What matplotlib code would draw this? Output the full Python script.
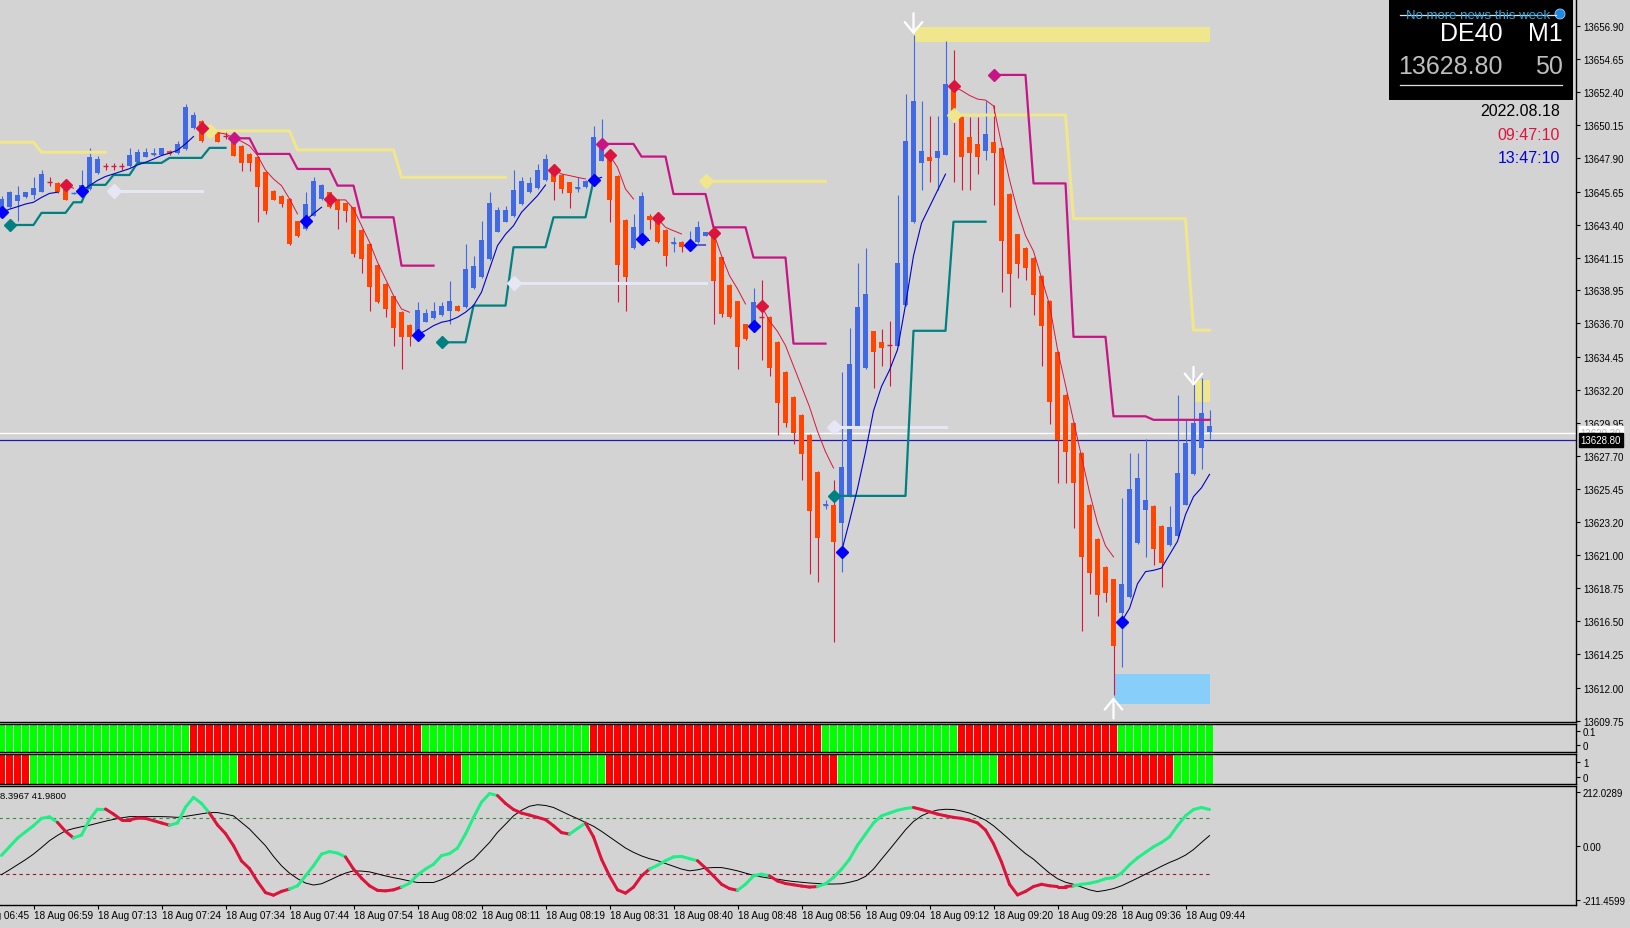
import numpy as np
import matplotlib
matplotlib.use('Agg')
import matplotlib.pyplot as plt
import matplotlib.transforms as mtransforms
from matplotlib.collections import LineCollection
from matplotlib.patches import Rectangle, Circle

plt.rcParams['font.family'] = ['Liberation Sans', 'DejaVu Sans']

# ---- M1 bars (DE40, 18 Aug 2022) ----
opens = [
    13644.47, 13644.58, 13645.03, 13645.26, 13645.42, 13645.65, 13646.28, 13646.23, 13646.05, 13645.52,
    13645.60, 13645.83, 13646.91, 13647.36, 13647.36, 13647.36, 13647.36, 13647.68, 13648.02, 13648.18,
    13648.16, 13648.40, 13648.27, 13648.54, 13649.94, 13650.42, 13649.78, 13649.67, 13649.44, 13649.33,
    13648.77, 13648.20, 13647.97, 13646.96, 13645.69, 13645.37, 13645.15, 13643.63, 13643.11, 13644.02,
    13645.15, 13645.60, 13645.10, 13644.85, 13644.58, 13643.07, 13642.09, 13640.67, 13639.38, 13638.54,
    13637.46, 13636.60, 13635.99, 13636.83, 13637.05, 13637.28, 13637.57, 13637.91, 13637.80, 13639.09,
    13639.83, 13641.08, 13642.93, 13643.61, 13643.97, 13644.80, 13645.60, 13645.89, 13646.43, 13647.07,
    13646.77, 13646.27, 13645.90, 13645.94, 13646.39, 13647.74, 13648.08, 13646.73, 13643.72, 13641.80,
    13642.39, 13643.97, 13643.61, 13643.04, 13642.18, 13642.21, 13641.93, 13642.21, 13642.66, 13642.77,
    13641.19, 13639.31, 13638.20, 13636.64, 13636.45, 13637.13, 13637.13, 13635.47, 13633.40, 13631.73,
    13630.49, 13629.16, 13626.61, 13624.36, 13624.40, 13623.15, 13624.95, 13629.66, 13633.67, 13636.17,
    13635.47, 13635.25, 13635.20, 13637.96, 13643.56, 13647.60, 13648.00, 13647.94, 13648.16, 13652.60,
    13650.70, 13649.37, 13648.90, 13648.43, 13649.04, 13648.63, 13645.48, 13642.75, 13641.81, 13641.15,
    13639.94, 13638.21, 13634.79, 13631.85, 13629.94, 13627.91, 13624.40, 13622.07, 13620.16, 13619.34,
    13617.07, 13618.13, 13621.77, 13624.03, 13624.34, 13622.97, 13621.67, 13622.28, 13624.40, 13626.46,
    13628.22, 13629.34]
highs = [
    13645.37, 13645.71, 13646.05, 13645.65, 13646.62, 13647.11, 13646.62, 13646.28, 13646.16, 13645.62,
    13647.11, 13648.58, 13648.09, 13647.59, 13647.59, 13647.59, 13648.58, 13648.54, 13648.58, 13648.58,
    13648.63, 13648.45, 13649.10, 13651.59, 13651.07, 13650.47, 13649.85, 13649.72, 13649.67, 13649.44,
    13648.81, 13648.25, 13648.09, 13647.00, 13645.75, 13645.42, 13645.20, 13643.68, 13645.60, 13646.62,
    13646.15, 13645.65, 13645.15, 13644.90, 13644.63, 13643.12, 13642.14, 13640.72, 13639.43, 13638.59,
    13637.51, 13636.65, 13638.14, 13637.68, 13638.14, 13638.14, 13639.61, 13637.96, 13642.09, 13641.30,
    13643.68, 13645.60, 13644.58, 13644.65, 13647.11, 13646.61, 13646.61, 13647.52, 13648.20, 13647.20,
    13646.82, 13646.32, 13646.61, 13646.44, 13650.12, 13650.57, 13648.13, 13646.78, 13643.77, 13644.13,
    13645.60, 13644.13, 13643.90, 13643.09, 13642.54, 13642.26, 13643.00, 13643.67, 13642.93, 13642.82,
    13641.24, 13639.36, 13638.25, 13636.69, 13639.07, 13639.63, 13637.18, 13635.52, 13633.45, 13631.78,
    13630.54, 13629.21, 13626.66, 13624.70, 13626.11, 13633.40, 13636.36, 13640.79, 13641.79, 13636.22,
    13636.30, 13636.86, 13645.39, 13652.28, 13656.24, 13651.81, 13650.76, 13650.76, 13655.83, 13655.27,
    13650.75, 13650.70, 13650.70, 13651.81, 13651.53, 13648.68, 13645.53, 13642.80, 13641.86, 13641.20,
    13639.99, 13638.26, 13634.84, 13631.90, 13629.99, 13627.96, 13624.45, 13622.12, 13620.21, 13619.39,
    13624.88, 13627.91, 13627.91, 13628.88, 13624.39, 13623.02, 13624.34, 13631.85, 13630.24, 13632.97,
    13632.97, 13630.85]
lows = [
    13644.36, 13644.51, 13643.68, 13645.22, 13645.15, 13645.60, 13646.05, 13645.56, 13645.06, 13645.50,
    13645.42, 13645.78, 13646.86, 13647.09, 13647.09, 13647.09, 13647.32, 13647.64, 13647.97, 13648.09,
    13648.11, 13648.13, 13648.22, 13648.49, 13649.90, 13649.02, 13649.60, 13648.99, 13649.22, 13648.04,
    13647.07, 13647.07, 13643.61, 13644.13, 13645.05, 13644.58, 13642.04, 13642.56, 13643.06, 13643.97,
    13645.10, 13644.53, 13643.11, 13643.61, 13641.19, 13640.13, 13637.57, 13638.09, 13637.12, 13635.20,
    13633.61, 13635.20, 13635.88, 13636.78, 13637.00, 13637.23, 13636.67, 13637.52, 13637.75, 13639.04,
    13639.78, 13641.03, 13642.88, 13643.56, 13643.92, 13644.75, 13645.55, 13645.84, 13646.38, 13645.10,
    13645.55, 13644.51, 13645.60, 13645.89, 13646.34, 13647.69, 13643.61, 13638.13, 13637.57, 13641.75,
    13642.34, 13643.11, 13642.16, 13640.58, 13641.53, 13641.55, 13641.62, 13642.16, 13642.61, 13636.66,
    13637.12, 13637.07, 13633.61, 13635.56, 13636.40, 13634.23, 13633.12, 13629.10, 13629.66, 13628.55,
    13626.06, 13619.69, 13619.13, 13624.10, 13615.12, 13619.83, 13624.90, 13629.61, 13633.62, 13632.29,
    13633.81, 13632.43, 13635.15, 13637.91, 13643.51, 13645.77, 13646.27, 13645.77, 13648.11, 13646.27,
    13645.77, 13645.77, 13646.83, 13647.80, 13644.75, 13638.81, 13637.82, 13639.78, 13639.63, 13637.30,
    13633.79, 13629.85, 13625.85, 13625.85, 13622.82, 13615.86, 13618.34, 13616.83, 13617.83, 13611.47,
    13613.38, 13618.08, 13621.72, 13620.86, 13620.34, 13618.83, 13621.62, 13622.23, 13624.35, 13626.41,
    13626.82, 13628.88]
closes = [
    13645.15, 13645.60, 13645.42, 13645.60, 13645.89, 13646.84, 13646.28, 13645.60, 13645.10, 13645.58,
    13646.10, 13647.97, 13647.86, 13647.36, 13647.36, 13647.36, 13648.13, 13648.36, 13648.36, 13648.27,
    13648.58, 13648.18, 13648.88, 13651.37, 13650.85, 13649.06, 13649.67, 13649.04, 13649.44, 13648.09,
    13647.59, 13647.59, 13645.94, 13644.36, 13645.10, 13644.81, 13642.09, 13642.61, 13644.81, 13646.39,
    13646.10, 13644.58, 13644.42, 13644.36, 13641.42, 13641.08, 13639.15, 13638.14, 13637.68, 13636.37,
    13635.76, 13635.76, 13637.62, 13637.41, 13637.57, 13637.87, 13638.23, 13637.57, 13640.40, 13640.62,
    13642.37, 13644.88, 13644.40, 13644.40, 13645.75, 13646.39, 13646.23, 13647.11, 13647.86, 13646.32,
    13645.82, 13645.55, 13645.95, 13646.39, 13649.33, 13648.81, 13645.10, 13640.67, 13639.83, 13643.27,
    13645.33, 13643.72, 13642.21, 13641.30, 13642.23, 13641.87, 13642.21, 13643.22, 13642.88, 13639.60,
    13637.34, 13637.12, 13635.13, 13635.62, 13638.17, 13637.13, 13633.67, 13631.32, 13629.93, 13629.24,
    13627.86, 13623.98, 13622.13, 13624.42, 13621.90, 13626.94, 13633.95, 13637.83, 13638.71, 13634.78,
    13635.06, 13635.25, 13640.79, 13649.10, 13651.81, 13648.43, 13647.70, 13648.43, 13652.92, 13650.80,
    13647.99, 13648.27, 13647.99, 13649.54, 13648.27, 13642.27, 13640.03, 13640.75, 13640.45, 13638.63,
    13636.51, 13631.37, 13628.82, 13627.97, 13625.85, 13620.86, 13619.80, 13618.28, 13618.43, 13614.80,
    13619.04, 13625.49, 13626.22, 13624.70, 13621.37, 13620.46, 13622.88, 13626.52, 13628.58, 13629.94,
    13630.64, 13629.73]

# time axis (bar index of each label)
time_ticks = [-4, 4, 12, 20, 28, 36, 44, 52, 60, 68, 76, 84, 92, 100, 108, 116, 124, 132, 140, 148]
time_labels = ['18 Aug 06:45', '18 Aug 06:59', '18 Aug 07:13', '18 Aug 07:24', '18 Aug 07:34',
               '18 Aug 07:44', '18 Aug 07:54', '18 Aug 08:02', '18 Aug 08:11', '18 Aug 08:19',
               '18 Aug 08:31', '18 Aug 08:40', '18 Aug 08:48', '18 Aug 08:56', '18 Aug 09:04',
               '18 Aug 09:12', '18 Aug 09:20', '18 Aug 09:28', '18 Aug 09:36', '18 Aug 09:44']
price_ticks = [13656.90, 13654.65, 13652.40, 13650.15, 13647.90, 13645.65, 13643.40, 13641.15,
               13638.95, 13636.70, 13634.45, 13632.20, 13629.95, 13627.70, 13625.45, 13623.20,
               13621.00, 13618.75, 13616.50, 13614.25, 13612.00, 13609.75]
bid_price = 13628.80
ask_price = 13629.30

# step levels (first bar, last bar, price)
yellow_steps = [(0, 4, 13648.99), (5, 13, 13648.31),
                (26, 36, 13649.76), (37, 49, 13648.47), (50, 63, 13646.61),
                (88, 103, 13646.34),
                (119, 133, 13650.84), (134, 148, 13643.81), (149, 151, 13636.24)]
magenta_steps = [(29, 31, 13649.26), (32, 36, 13648.20), (37, 41, 13647.18), (42, 44, 13646.05),
                 (45, 49, 13643.90), (50, 54, 13640.62),
                 (75, 79, 13648.88), (80, 83, 13648.02), (84, 88, 13645.48), (89, 93, 13643.22),
                 (94, 98, 13641.17), (99, 103, 13635.33),
                 (124, 128, 13653.56), (129, 133, 13646.20), (134, 138, 13635.79),
                 (139, 143, 13630.40), (144, 151, 13630.16)]
teal_steps = [(1, 4, 13643.38), (5, 8, 13644.20), (9, 10, 13644.92), (11, 13, 13646.10),
              (14, 16, 13646.77), (17, 20, 13647.59), (21, 25, 13647.93), (26, 28, 13648.61),
              (55, 58, 13635.42), (59, 63, 13637.91), (64, 68, 13641.87), (69, 73, 13643.90),
              (74, 74, 13646.39),
              (104, 113, 13625.00), (114, 118, 13636.20), (119, 123, 13643.60)]
pale_steps = [(14, 25, 13645.71), (64, 88, 13639.42), (104, 118, 13629.66)]

# thin trend lines (first bar, values)
blue_line = [
    (0, [13644.24, 13644.45, 13644.62, 13644.80, 13644.92, 13645.25, 13645.52, 13645.60]),
    (10, [13645.71, 13646.05, 13646.40, 13646.67, 13646.84, 13647.02, 13647.20, 13647.45,
          13647.63, 13647.85, 13648.09, 13648.25, 13648.45, 13648.88, 13649.38]),
    (38, [13643.68, 13644.15, 13644.58]),
    (52, [13635.94, 13636.21, 13636.55, 13636.78, 13636.89, 13637.12, 13637.46, 13637.91,
          13638.82, 13640.40, 13641.98, 13642.75, 13643.33, 13644.24, 13644.80, 13645.37, 13646.09]),
    (74, [13646.43, 13646.61]),
    (80, [13642.43, 13642.32]),
    (86, [13642.02, 13642.02, 13642.02]),
    (105, [13621.21, 13623.29, 13625.50, 13627.99, 13630.77, 13632.43, 13633.53, 13634.92,
           13637.96, 13641.29, 13643.50, 13644.61, 13645.72, 13646.83]),
    (140, [13616.47, 13617.37, 13619.04, 13619.86, 13619.95, 13620.10, 13621.01, 13621.92,
           13623.73, 13624.95, 13625.55, 13626.46])]
red_line = [
    (8, [13646.10, 13645.87]),
    (25, [13649.94, 13649.80, 13649.65, 13649.55, 13649.30, 13649.05, 13648.75, 13648.10,
          13647.10, 13646.50, 13646.05, 13645.15, 13644.13]),
    (41, [13645.15, 13645.08, 13645.08, 13644.47, 13643.34, 13642.21, 13640.85, 13639.72,
          13638.59, 13637.68, 13637.46]),
    (69, [13647.11, 13646.84, 13646.73, 13646.61, 13646.50]),
    (76, [13648.13, 13647.29, 13645.82, 13645.14]),
    (82, [13643.83, 13643.22, 13642.99, 13642.77]),
    (89, [13642.84, 13641.30, 13639.94, 13639.04, 13638.02]),
    (95, [13637.88, 13636.86, 13636.16, 13635.20, 13633.81, 13632.43, 13631.04, 13629.38,
          13627.99, 13626.89]),
    (119, [13652.78, 13652.50, 13652.17, 13651.92, 13651.85, 13651.46, 13648.87, 13646.45,
           13644.33, 13642.66, 13641.60, 13639.79, 13637.97, 13634.94, 13632.52, 13630.09,
           13627.67, 13625.25, 13623.13, 13621.61, 13620.86])]

# signal diamonds
buy_idx = [0, 10, 38, 52, 74, 80, 86, 94, 105, 140]
buy_px = [13644.24, 13645.71, 13643.68, 13635.94, 13646.43, 13642.43, 13642.02, 13636.55, 13621.21, 13616.47]
sell_idx = [8, 25, 41, 69, 76, 82, 89, 95, 119]
sell_px = [13646.10, 13649.94, 13645.15, 13647.11, 13648.13, 13643.83, 13642.84, 13637.88, 13652.78]
magenta_idx = [29, 75, 124]
magenta_px = [13649.26, 13648.88, 13653.56]
teal_idx = [1, 55, 104]
teal_px = [13643.38, 13635.42, 13625.00]
yellow_idx = [26, 88, 119]
yellow_px = [13649.76, 13646.34, 13650.84]
pale_idx = [14, 64, 104]
pale_px = [13645.71, 13639.42, 13629.66]

# zones (first bar, last bar, low, high, colour) and arrows (bar, tail, tip)
zones = [(114, 151, 13655.79, 13656.81, '#F0E68C'),
         (149, 151, 13631.37, 13632.88, '#F0E68C'),
         (139, 151, 13610.85, 13612.90, '#87CEFA')]
arrows = [(114, 13657.75, 13656.30), (149, 13633.75, 13632.45), (139, 13609.90, 13611.35)]

# sub-window histograms (colour, bar count)
p2_runs = [('G', 24), ('R', 29), ('G', 21), ('R', 29), ('G', 17), ('R', 20), ('G', 12)]
p3_runs = [('R', 4), ('G', 26), ('R', 28), ('G', 18), ('R', 29), ('G', 20), ('R', 22), ('G', 5)]

# oscillator
osc_main = [
    -37, -3, 31, 56, 80, 109, 115, 93, 58, 32,
    43, 104, 146, 146, 126, 103, 103, 110, 109, 100,
    91, 82, 91, 153, 192, 168, 130, 83, 49, 1,
    -59, -89, -140, -184, -194, -179, -170, -157, -118, -78,
    -32, -22, -28, -43, -91, -127, -157, -175, -177, -173,
    -162, -147, -114, -91, -72, -38, -30, -8, 47, 113,
    173, 207, 199, 168, 144, 130, 122, 113, 104, 80,
    53, 47, 69, 91, 36, -52, -118, -173, -186, -162,
    -118, -91, -76, -58, -43, -41, -50, -58, -87, -118,
    -151, -168, -175, -151, -118, -111, -118, -138, -148, -153,
    -158, -162, -160, -149, -124, -92, -52, 3, 47, 91,
    119, 130, 141, 148, 152, 144, 135, 126, 119, 113,
    109, 102, 91, 63, 9, -63, -151, -193, -179, -160,
    -151, -157, -160, -160, -157, -151, -147, -140, -129, -125,
    -107, -74, -47, -25, -3, 14, 36, 80, 119, 144,
    152, 144]
osc_signal = [
    -113, -94, -74, -54, -32, -6, 21, 42, 60, 69,
    76, 82, 90, 98, 105, 111, 116, 116, 116, 116,
    116, 115, 113, 117, 122, 127, 132, 132, 126, 119,
    93, 67, 34, 1, -41, -78, -107, -129, -146, -154,
    -149, -135, -120, -107, -98, -99, -102, -110, -118, -125,
    -131, -138, -144, -144, -144, -133, -118, -96, -72, -52,
    -19, 14, 54, 86, 119, 141, 157, 163, 160, 152,
    137, 122, 108, 93, 78, 58, 36, 14, -8, -25,
    -39, -50, -58, -69, -80, -91, -98, -94, -87, -85,
    -85, -91, -98, -107, -116, -122, -127, -131, -136, -140,
    -143, -146, -148, -150, -150, -149, -143, -135, -120, -91,
    -52, -14, 25, 64, 97, 119, 133, 142, 145, 144,
    138, 130, 117, 102, 80, 53, 25, -3, -30, -52,
    -80, -107, -129, -143, -151, -162, -173, -180, -175, -168,
    -157, -142, -127, -111, -96, -80, -65, -52, -36, -14,
    14, 41]
osc_runs = [('G', 8), ('R', 2), ('G', 4), ('R', 8), ('G', 5), ('R', 10), ('G', 7), ('R', 7),
            ('G', 12), ('R', 9), ('G', 2), ('R', 8), ('G', 6), ('R', 5), ('G', 4), ('R', 6),
            ('G', 12), ('R', 20), ('G', 17)]
osc_levels = [110, -110]

BG = '#D3D3D3'
BULL = '#4169E1'
BEAR = '#FF4500'
WICK_DN = '#DC143C'

n = len(opens)
x = np.arange(n)
o, h, l, c = (np.array(v) for v in (opens, highs, lows, closes))


def steps_to_series(steps):
    s = np.full(n, np.nan)
    for a, b, v in steps:
        s[a:b + 1] = v
    return s


def segs_to_series(segs):
    s = np.full(n, np.nan)
    for a, vals in segs:
        s[a:a + len(vals)] = vals
    return s


def runs_to_list(runs):
    out = []
    for col, k in runs:
        out += [col] * k
    return out


W, H = 1631.0, 929.0
fig = plt.figure(figsize=(16.31, 9.29), dpi=100, facecolor=BG)


def add_panel(top, bottom):
    a = fig.add_axes([0, 1 - bottom / H, 1576 / W, (bottom - top) / H], facecolor=BG)
    a.set_xlim(-0.1875, 196.81)
    a.spines['left'].set_visible(False)
    for s in ('top', 'right', 'bottom'):
        a.spines[s].set_color('black')
        a.spines[s].set_linewidth(1)
    a.yaxis.tick_right()
    a.tick_params(axis='y', direction='out', length=3, width=0.8, labelsize=7, pad=2)
    a.set_xticks([])
    return a


ax = add_panel(0, 723)
ax.spines['top'].set_visible(False)
ax.set_ylim(13609.66, 13658.71)
ax.set_yticks(price_ticks)
ax.set_yticklabels(['%.2f' % v for v in price_ticks])

# zones
for a, b, lo, hi, col in zones:
    ax.add_patch(Rectangle((a, lo), b - a, hi - lo, facecolor=col, edgecolor='none', zorder=1))

# ask / bid
ax.axhline(ask_price, color='white', lw=1.0, zorder=2)
ax.axhline(bid_price, color='#1C1CB0', lw=0.9, zorder=2)

# candles
up = c > o + 1e-9
dn = c < o - 1e-9
flat = ~(up | dn)
ax.vlines(x[up], l[up], h[up], color=BULL, lw=0.8, zorder=3)
ax.vlines(x[~up], l[~up], h[~up], color=WICK_DN, lw=0.8, zorder=3)
ax.bar(x[up], (c - o)[up], bottom=o[up], width=0.65, color=BULL, linewidth=0, zorder=4)
ax.bar(x[dn], (o - c)[dn], bottom=c[dn], width=0.65, color=BEAR, linewidth=0, zorder=4)
small_up = up & ((c - o) < 0.1)
ax.hlines(o[small_up], x[small_up] - 0.32, x[small_up] + 0.32, color=BULL, lw=1.0, zorder=4)
ax.hlines(o[flat], x[flat] - 0.32, x[flat] + 0.32, color=WICK_DN, lw=1.0, zorder=4)

# indicator lines
ax.plot(x, steps_to_series(pale_steps), color='#E6E6F5', lw=2.2, zorder=5)
ax.plot(x, steps_to_series(yellow_steps), color='#F0E68C', lw=2.2, zorder=5)
ax.plot(x, steps_to_series(teal_steps), color='#008080', lw=1.6, zorder=5)
ax.plot(x, steps_to_series(magenta_steps), color='#C71585', lw=1.6, zorder=5)
ax.plot(x, segs_to_series(blue_line), color='#0000CD', lw=0.8, zorder=6)
ax.plot(x, segs_to_series(red_line), color='#DC143C', lw=0.7, zorder=6)

# diamonds
ax.plot(pale_idx, pale_px, 'D', color='#E6E6F5', ms=7, zorder=7)
ax.plot(yellow_idx, yellow_px, 'D', color='#F0E68C', ms=7, zorder=7)
ax.plot(teal_idx, teal_px, 'D', color='#008080', ms=6, zorder=7)
ax.plot(magenta_idx, magenta_px, 'D', color='#C71585', ms=6, zorder=7)
ax.plot(buy_idx, buy_px, 'D', color='#0000FF', ms=6, zorder=7)
ax.plot(sell_idx, sell_px, 'D', color='#DC143C', ms=6, zorder=7)

# arrows
for i, tail, tip in arrows:
    ax.annotate('', xy=(i, tip), xytext=(i, tail),
                arrowprops=dict(arrowstyle='->,head_length=0.55,head_width=0.45', color='white',
                                lw=1.6, mutation_scale=14, shrinkA=0, shrinkB=0),
                zorder=8)

# price boxes on the scale
yb = mtransforms.blended_transform_factory(ax.transAxes, ax.transData)
ax.annotate('%.2f' % ask_price, xy=(1, ask_price), xycoords=yb, xytext=(3.2, 0),
            textcoords='offset points', ha='left', va='center', fontsize=7, color='#B8B8B8',
            bbox=dict(boxstyle='square,pad=0.18', fc='white', ec='white'), annotation_clip=False)
ax.annotate('%.2f' % bid_price, xy=(1, bid_price), xycoords=yb, xytext=(3.2, 0),
            textcoords='offset points', ha='left', va='center', fontsize=7, color='white',
            bbox=dict(boxstyle='square,pad=0.18', fc='black', ec='black'), annotation_clip=False)

# sub-window 1
ax2 = add_panel(724.5, 752.5)
ax2.set_ylim(0, 1)
ax2.axvspan(-0.5, n - 0.5, color='#EDEDED', lw=0, zorder=0)
cols2 = ['#00FF00' if s == 'G' else '#FF0000' for s in runs_to_list(p2_runs)]
ax2.bar(x, 1, bottom=0, width=0.86, color=cols2, linewidth=0, zorder=1)
ax2.set_yticks([0.232, 0.743])
ax2.set_yticklabels(['0', '0.1'])

# sub-window 2
ax3 = add_panel(754.5, 784.5)
ax3.set_ylim(0, 1)
ax3.axvspan(-0.5, n - 0.5, color='#EDEDED', lw=0, zorder=0)
cols3 = ['#00FF00' if s == 'G' else '#FF0000' for s in runs_to_list(p3_runs)]
ax3.bar(x, 1, bottom=0, width=0.86, color=cols3, linewidth=0, zorder=1)
ax3.set_yticks([0.207, 0.727])
ax3.set_yticklabels(['0', '1'])

# oscillator window
ax4 = add_panel(786.5, 906)
ax4.set_ylim(-232.8, 238.8)
ax4.set_yticks([212.0289, 0, -211.4599])
ax4.set_yticklabels(['212.0289', '0.00', '-211.4599'])
ax4.hlines(osc_levels[0], -1, n - 1, colors='#3C8C3C', lw=0.8, linestyles=(0, (3, 3)))
ax4.hlines(osc_levels[1], -1, n - 1, colors='#A01030', lw=0.8, linestyles=(0, (3, 3)))
ax4.plot(x, osc_signal, color='black', lw=0.7, zorder=3)
om = np.array(osc_main, dtype=float)
segs = [[(i - 1, om[i - 1]), (i, om[i])] for i in range(1, n)]
states = runs_to_list(osc_runs)
seg_cols = ['#22EE88' if states[i] == 'G' else '#DC143C' for i in range(1, n)]
ax4.add_collection(LineCollection(segs, colors=seg_cols, linewidths=2.2, capstyle='round', zorder=4))
ax4.set_xticks([t for t in time_ticks if t >= 0])
ax4.tick_params(axis='x', direction='out', length=3, width=0.8, labelbottom=False)
xb = mtransforms.blended_transform_factory(ax4.transData, ax4.transAxes)
for t, lab in zip(time_ticks, time_labels):
    ax4.annotate(lab, xy=(t, 0), xycoords=xb, xytext=(0.3, -7), textcoords='offset points',
                 ha='left', va='center', fontsize=7.2, annotation_clip=False)

# overlay for the info panel (pixel coordinates)
ov = fig.add_axes([0, 0, 1, 1])
ov.set_xlim(0, W)
ov.set_ylim(H, 0)
ov.axis('off')
ov.patch.set_alpha(0)
ov.text(0, 797, '8.3967 41.9800', fontsize=6.8, va='center', ha='left')
ov.add_patch(Rectangle((1389, 0), 184, 101, facecolor='black', edgecolor='none'))
ov.text(1478, 16, 'No more news this week', fontsize=9.5, color='#3AA6DD', ha='center', va='center')
ov.plot([1400, 1556], [16, 16], color='#E0E0E0', lw=0.9)
ov.add_patch(Circle((1560, 15), 5, facecolor='#1E88E5', edgecolor='#9AD0F5', lw=0.6))
ov.text(1503, 34, 'DE40', fontsize=18, color='white', ha='right', va='center')
ov.text(1563, 34, 'M1', fontsize=18, color='white', ha='right', va='center')
ov.text(1503, 67, '13628.80', fontsize=18, color='#BEBEBE', ha='right', va='center')
ov.text(1563, 67, '50', fontsize=18, color='#BEBEBE', ha='right', va='center')
ov.plot([1400, 1562], [86, 86], color='#E0E0E0', lw=0.9)
ov.text(1560, 111, '2022.08.18', fontsize=11.5, color='black', ha='right', va='center')
ov.text(1560, 135, '09:47:10', fontsize=11.5, color='#DC143C', ha='right', va='center')
ov.text(1560, 158, '13:47:10', fontsize=11.5, color='#0000E0', ha='right', va='center')

fig.savefig('out.png', dpi=100, facecolor=BG)
